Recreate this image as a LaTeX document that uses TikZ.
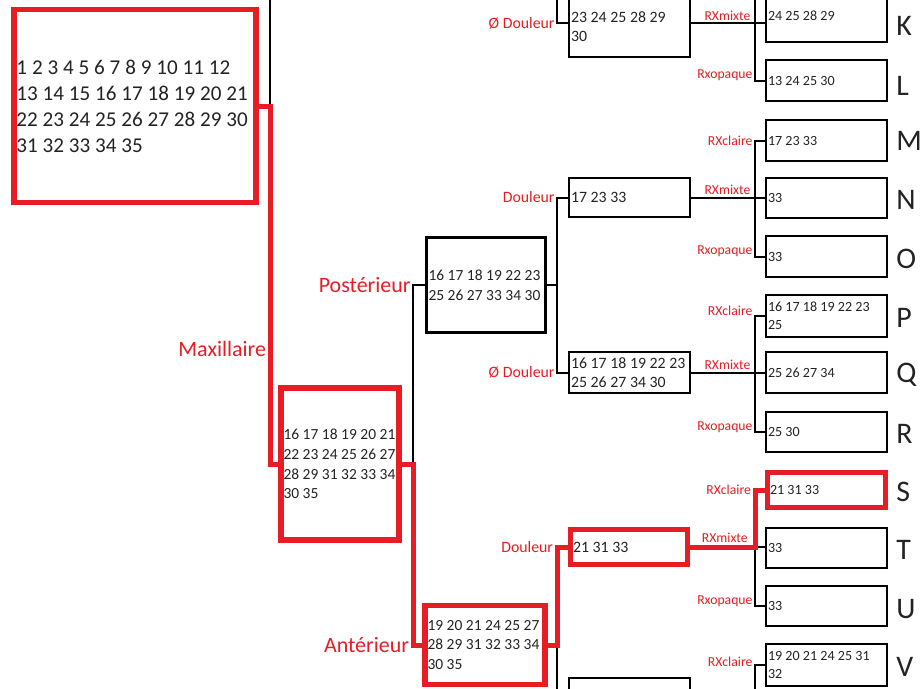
\documentclass[tikz,border=0pt]{standalone}
\usepackage{fontspec}
\setmainfont{Carlito}
\usepackage{tikz}
\usetikzlibrary{positioning}
\definecolor{redmark}{RGB}{232,28,36}
\definecolor{txt}{RGB}{35,35,35}
\newcommand{\tightspace}{\spaceskip=0.23em\relax}

\begin{document}
\begin{tikzpicture}[
    x=0.2mm, y=-0.2mm,
    redbox/.style={draw=redmark, line width=1.1mm, inner xsep=0.5mm, inner ysep=0pt, align=left, text=txt, execute at begin node=\tightspace},
    blkbox/.style={draw=black, line width=0.55mm, inner xsep=0.4mm, inner ysep=0pt, align=left, text=txt, execute at begin node=\tightspace},
    rootfont/.style={font=\fontsize{12}{14.8}\selectfont},
    midfont/.style={font=\fontsize{8.8}{11.2}\selectfont},
    painfont/.style={font=\fontsize{9}{10.6}\selectfont},
    leaffont/.style={font=\fontsize{8}{10.2}\selectfont},
    leaf/.style={blkbox, leaffont, text width=23.4mm, minimum height=8.2mm},
    tag/.style={anchor=west, text=txt, inner sep=0pt, font=\fontsize{17}{17}\selectfont},
    lbl/.style={text=redmark, inner sep=0.3mm, font=\fontsize{9}{9}\selectfont},
    biglbl/.style={text=redmark, inner sep=0.3mm, font=\fontsize{12.5}{12.5}\selectfont},
    rxlbl/.style={text=redmark, inner sep=0.3mm, font=\fontsize{7.8}{7.8}\selectfont},
    blkline/.style={draw=black, line width=0.4mm},
    redline/.style={draw=redmark, line width=1mm}
]
\useasboundingbox (0,0) rectangle (920,689);
\clip (0,0) rectangle (920,689);

% ---- Root and first split ----
\node[redbox, rootfont, text width=47.4mm, minimum height=38.6mm] (root) at (135,106)
    {1 2 3 4 5 6 7 8 9 10 11 12\\13 14 15 16 17 18 19 20 21\\22 23 24 25 26 27 28 29 30\\31 32 33 34 35};
\node[redbox, midfont, text width=22.6mm, minimum height=30.4mm] (maxi) at (340,464)
    {16 17 18 19 20 21\\22 23 24 25 26 27\\28 29 31 32 33 34\\30 35};
\node[blkbox, midfont, text width=23mm, minimum height=19mm] (post) at (486,285)
    {16 17 18 19 22 23\\25 26 27 33 34 30};
\node[redbox, midfont, text width=23mm, minimum height=15.8mm] (ant) at (485,645)
    {19 20 21 24 25 27\\28 29 31 32 33 34\\30 35};

% ---- Douleur level ----
\node[blkbox, painfont, text width=23.4mm, minimum height=13.6mm] (mandND) at (629.5,23)
    {\mbox{}\\23 24 25 28 29\\30};
\node[blkbox, painfont, text width=23.4mm, minimum height=7.8mm] (postD) at (629.5,197.5) {17 23 33};
\node[blkbox, painfont, text width=23.4mm, minimum height=8.2mm] (postND) at (629.5,372.5)
    {16 17 18 19 22 23\\25 26 27 34 30};
\node[redbox, painfont, text width=22.4mm, minimum height=7mm] (antD) at (629,547) {21 31 33};
\node[blkbox, painfont, text width=23.4mm, minimum height=8mm] (antND) at (629.5,698) {};

% ---- Radiographic level ----
\node[leaf, minimum height=12mm] (boxK) at (826.5,12) {\mbox{}\\24 25 28 29};
\node[leaf] (boxL) at (826.5,80.5) {13 24 25 30};
\node[leaf] (boxM) at (826.5,140.5) {17 23 33};
\node[leaf, minimum height=8mm] (boxN) at (826.5,198) {33};
\node[leaf] (boxO) at (826.5,256.5) {33};
\node[leaf, minimum height=8.4mm] (boxP) at (826.5,316) {16 17 18 19 22 23\\25};
\node[leaf] (boxQ) at (826.5,372.5) {25 26 27 34};
\node[leaf, minimum height=8mm] (boxR) at (826.5,432) {25 30};
\node[redbox, leaffont, text width=22.6mm, minimum height=7mm] (boxS) at (826.5,490) {21 31 33};
\node[leaf, minimum height=8mm] (boxT) at (826.5,548) {33};
\node[leaf, minimum height=8mm] (boxU) at (826.5,606) {33};
\node[leaf, minimum height=8.4mm] (boxV) at (826.5,665) {19 20 21 24 25 31\\32};

% ---- Class letters ----
\node[tag] (tagK) at (896,26) {K};
\node[tag] (tagL) at (896,86) {L};
\node[tag] (tagM) at (896,141) {M};
\node[tag] (tagN) at (896,200) {N};
\node[tag] (tagO) at (896,259) {O};
\node[tag] (tagP) at (896,318) {P};
\node[tag] (tagQ) at (896,375) {Q};
\node[tag] (tagR) at (896,434) {R};
\node[tag] (tagS) at (896,492) {S};
\node[tag] (tagT) at (896,550) {T};
\node[tag] (tagU) at (896,609) {U};
\node[tag] (tagV) at (896,667) {V};

% ---- Branch points ----
\coordinate (bRoot) at (270,106);
\coordinate (upRoot) at (270,-30);
\coordinate (bMax) at (413,464);
\coordinate (bPost) at (557,285);
\coordinate (bAnt) at (557,645);
\coordinate (upMand) at (557,-30);
\coordinate (upK) at (755,-30);
\coordinate (bPD) at (755,197.5);
\coordinate (bPND) at (755,372.5);
\coordinate (bAD) at (755,547);
\coordinate (bAND) at (755,698);

% ---- Black connectors ----
\draw[blkline] (bRoot) -- (upRoot);
\draw[blkline] (bMax) |- node[biglbl, left]{Postérieur} (post.west);
\draw[blkline] (post.east) -- (bPost) |- node[lbl, left]{Douleur} (postD.west);
\draw[blkline] (bPost) |- node[lbl, left]{Ø Douleur} (postND.west);
\draw[blkline] (bAnt) |- (antND.west);
\draw[blkline] (upMand) |- node[lbl, left]{Ø Douleur} (mandND.west);

\draw[blkline] (mandND.east) -- node[rxlbl, above left, pos=0.84]{RXmixte} (mandND.east -| boxK.west);
\draw[blkline] (upK) |- node[rxlbl, left, yshift=1mm]{Rxopaque} (boxL.west);

\draw[blkline] (postD.east) -- node[rxlbl, above left, pos=0.84]{RXmixte} (postD.east -| boxN.west);
\draw[blkline] (bPD) |- node[rxlbl, left]{RXclaire} (boxM.west);
\draw[blkline] (bPD) |- node[rxlbl, left, yshift=1mm]{Rxopaque} (boxO.west);

\draw[blkline] (postND.east) -- node[rxlbl, above left, pos=0.84]{RXmixte} (postND.east -| boxQ.west);
\draw[blkline] (bPND) |- node[rxlbl, left, yshift=1mm]{RXclaire} (boxP.west);
\draw[blkline] (bPND) |- node[rxlbl, left, yshift=1mm]{Rxopaque} (boxR.west);

\draw[blkline] (bAD) -- (bAD -| boxT.west);
\draw[blkline] (bAD) |- node[rxlbl, left, yshift=1mm]{Rxopaque} (boxU.west);
\draw[blkline] (antND.east) -- (bAND) |- node[rxlbl, left, yshift=0.6mm]{RXclaire} (boxV.west);

% ---- Red path ----
\draw[redline] (root.east) -- (bRoot) |- node[biglbl, left, pos=0.34]{Maxillaire} (maxi.west);
\draw[redline] (maxi.east) -- (bMax) |- node[biglbl, left]{Antérieur} (ant.west);
\draw[redline] (ant.east) -- (bAnt) |- node[lbl, left]{Douleur} (antD.west);
\draw[redline] (antD.east) -- node[rxlbl, above left, pos=0.95]{RXmixte} (bAD) |- node[rxlbl, left]{RXclaire} (boxS.west);

\end{tikzpicture}
\end{document}
